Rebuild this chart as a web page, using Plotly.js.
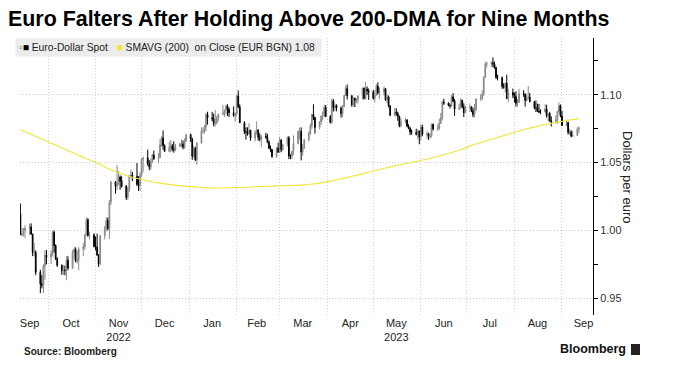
<!DOCTYPE html>
<html>
<head>
<meta charset="utf-8">
<script src="https://cdn.plot.ly/plotly-3.0.1.min.js"></script>
<style>html,body{margin:0;padding:0;background:#fff;}#chart{width:675px;height:377px;}</style>
</head>
<body>
<div id="chart"></div>
<script>
// ---- Data ----
const tradingDays = [
"2022-09-13","2022-09-14","2022-09-15","2022-09-16","2022-09-19","2022-09-20","2022-09-21","2022-09-22","2022-09-23","2022-09-26","2022-09-27","2022-09-28","2022-09-29","2022-09-30",
"2022-10-03","2022-10-04","2022-10-05","2022-10-06","2022-10-07","2022-10-10","2022-10-11","2022-10-12","2022-10-13","2022-10-14","2022-10-17","2022-10-18","2022-10-19","2022-10-20","2022-10-21","2022-10-24","2022-10-25","2022-10-26","2022-10-27","2022-10-28","2022-10-31",
"2022-11-01","2022-11-02","2022-11-03","2022-11-04","2022-11-07","2022-11-08","2022-11-09","2022-11-10","2022-11-11","2022-11-14","2022-11-15","2022-11-16","2022-11-17","2022-11-18","2022-11-21","2022-11-22","2022-11-23","2022-11-24","2022-11-25","2022-11-28","2022-11-29","2022-11-30",
"2022-12-01","2022-12-02","2022-12-05","2022-12-06","2022-12-07","2022-12-08","2022-12-09","2022-12-12","2022-12-13","2022-12-14","2022-12-15","2022-12-16","2022-12-19","2022-12-20","2022-12-21","2022-12-22","2022-12-23","2022-12-26","2022-12-27","2022-12-28","2022-12-29","2022-12-30",
"2023-01-02","2023-01-03","2023-01-04","2023-01-05","2023-01-06","2023-01-09","2023-01-10","2023-01-11","2023-01-12","2023-01-13","2023-01-16","2023-01-17","2023-01-18","2023-01-19","2023-01-20","2023-01-23","2023-01-24","2023-01-25","2023-01-26","2023-01-27","2023-01-30","2023-01-31",
"2023-02-01","2023-02-02","2023-02-03","2023-02-06","2023-02-07","2023-02-08","2023-02-09","2023-02-10","2023-02-13","2023-02-14","2023-02-15","2023-02-16","2023-02-17","2023-02-20","2023-02-21","2023-02-22","2023-02-23","2023-02-24","2023-02-27","2023-02-28",
"2023-03-01","2023-03-02","2023-03-03","2023-03-06","2023-03-07","2023-03-08","2023-03-09","2023-03-10","2023-03-13","2023-03-14","2023-03-15","2023-03-16","2023-03-17","2023-03-20","2023-03-21","2023-03-22","2023-03-23","2023-03-24","2023-03-27","2023-03-28","2023-03-29","2023-03-30","2023-03-31",
"2023-04-03","2023-04-04","2023-04-05","2023-04-06","2023-04-07","2023-04-10","2023-04-11","2023-04-12","2023-04-13","2023-04-14","2023-04-17","2023-04-18","2023-04-19","2023-04-20","2023-04-21","2023-04-24","2023-04-25","2023-04-26","2023-04-27","2023-04-28",
"2023-05-01","2023-05-02","2023-05-03","2023-05-04","2023-05-05","2023-05-08","2023-05-09","2023-05-10","2023-05-11","2023-05-12","2023-05-15","2023-05-16","2023-05-17","2023-05-18","2023-05-19","2023-05-22","2023-05-23","2023-05-24","2023-05-25","2023-05-26","2023-05-29","2023-05-30","2023-05-31",
"2023-06-01","2023-06-02","2023-06-05","2023-06-06","2023-06-07","2023-06-08","2023-06-09","2023-06-12","2023-06-13","2023-06-14","2023-06-15","2023-06-16","2023-06-19","2023-06-20","2023-06-21","2023-06-22","2023-06-23","2023-06-26","2023-06-27","2023-06-28","2023-06-29","2023-06-30",
"2023-07-03","2023-07-04","2023-07-05","2023-07-06","2023-07-07","2023-07-10","2023-07-11","2023-07-12","2023-07-13","2023-07-14","2023-07-17","2023-07-18","2023-07-19","2023-07-20","2023-07-21","2023-07-24","2023-07-25","2023-07-26","2023-07-27","2023-07-28","2023-07-31",
"2023-08-01","2023-08-02","2023-08-03","2023-08-04","2023-08-07","2023-08-08","2023-08-09","2023-08-10","2023-08-11","2023-08-14","2023-08-15","2023-08-16","2023-08-17","2023-08-18","2023-08-21","2023-08-22","2023-08-23","2023-08-24","2023-08-25","2023-08-28","2023-08-29","2023-08-30","2023-08-31",
"2023-09-01","2023-09-04","2023-09-05","2023-09-06","2023-09-07","2023-09-08","2023-09-11","2023-09-12"
];

const spotOpen = [
1.0122,0.9967,0.9977,0.9999,1.0015,1.0025,0.9971,0.9837,0.9838,0.9690,0.9606,0.9593,0.9736,0.9816,
0.9802,0.9825,0.9985,0.9887,0.9791,0.9742,0.9701,0.9707,0.9703,0.9779,0.9721,0.9838,0.9859,0.9772,0.9781,0.9862,0.9878,0.9964,1.0078,0.9962,0.9966,
0.9882,0.9876,0.9818,0.9751,0.9960,1.0018,1.0074,1.0012,1.0209,1.0356,1.0325,1.0350,1.0393,1.0364,1.0325,1.0242,1.0303,1.0396,1.0408,1.0398,1.0339,1.0330,
1.0406,1.0523,1.0535,1.0492,1.0467,1.0507,1.0555,1.0530,1.0537,1.0630,1.0681,1.0626,1.0584,1.0609,1.0622,1.0599,1.0595,1.0618,1.0636,1.0638,1.0614,1.0661,
1.0705,1.0672,1.0546,1.0606,1.0520,1.0645,1.0733,1.0735,1.0763,1.0853,1.0831,1.0822,1.0789,1.0794,1.0829,1.0856,1.0869,1.0885,1.0915,1.0893,1.0867,1.0847,
1.0863,1.0990,1.0912,1.0794,1.0727,1.0727,1.0713,1.0740,1.0679,1.0722,1.0740,1.0686,1.0672,1.0695,1.0686,1.0650,1.0606,1.0596,1.0545,1.0608,
1.0576,1.0668,1.0596,1.0633,1.0683,1.0548,1.0546,1.0582,1.0640,1.0730,1.0731,1.0577,1.0609,1.0668,1.0720,1.0771,1.0856,1.0832,1.0760,1.0800,1.0843,1.0845,1.0907,
1.0839,1.0797,1.0955,1.0905,1.0921,1.0902,1.0862,1.0911,1.0994,1.1046,1.0993,1.0927,1.0974,1.0958,1.0965,1.0990,1.1048,1.0973,1.1042,1.1027,
1.1020,1.0974,1.1000,1.1063,1.1013,1.1020,1.1044,1.0962,1.0984,1.0916,1.0850,1.0872,1.0862,1.0841,1.0770,1.0805,1.0814,1.0769,1.0752,1.0725,1.0723,1.0708,1.0733,
1.0689,1.0762,1.0708,1.0712,1.0693,1.0697,1.0782,1.0749,1.0755,1.0790,1.0830,1.0945,1.0939,1.0923,1.0918,1.0985,1.0955,1.0894,1.0906,1.0960,1.0912,1.0868,
1.0910,1.0911,1.0884,1.0854,1.0888,1.0968,1.0970,1.1008,1.1128,1.1227,1.1229,1.1237,1.1226,1.1200,1.1129,1.1126,1.1062,1.1055,1.1085,1.0972,1.1016,
1.0998,1.0986,1.0937,1.0944,1.1007,1.1006,1.0958,1.0975,1.0982,1.0950,1.0905,1.0904,1.0879,1.0872,1.0872,1.0895,1.0845,1.0862,1.0810,1.0796,1.0818,1.0878,1.0920,
1.0844,1.0773,1.0796,1.0721,1.0726,1.0695,1.0700,1.0749
];
const spotHigh = [
1.0198,1.0020,1.0017,1.0037,1.0050,1.0051,0.9976,0.9907,0.9852,0.9709,0.9669,0.9750,0.9853,0.9854,
0.9852,0.9999,0.9999,0.9896,0.9800,0.9748,0.9745,0.9740,0.9809,0.9809,0.9853,0.9876,0.9874,0.9848,0.9875,0.9905,0.9976,1.0094,1.0089,0.9989,0.9977,
0.9954,0.9976,0.9824,0.9966,1.0034,1.0096,1.0095,1.0223,1.0365,1.0364,1.0481,1.0438,1.0405,1.0399,1.0335,1.0320,1.0407,1.0448,1.0431,1.0497,1.0399,1.0429,
1.0534,1.0545,1.0595,1.0518,1.0529,1.0565,1.0588,1.0571,1.0673,1.0694,1.0737,1.0634,1.0652,1.0666,1.0638,1.0657,1.0638,1.0646,1.0670,1.0664,1.0678,1.0714,
1.0714,1.0683,1.0623,1.0616,1.0649,1.0760,1.0760,1.0776,1.0867,1.0875,1.0874,1.0861,1.0888,1.0845,1.0860,1.0927,1.0890,1.0929,1.0930,1.0907,1.0914,1.0870,
1.1003,1.1033,1.0930,1.0805,1.0760,1.0760,1.0790,1.0740,1.0738,1.0804,1.0745,1.0716,1.0705,1.0720,1.0712,1.0664,1.0625,1.0600,1.0613,1.0646,
1.0691,1.0669,1.0637,1.0694,1.0695,1.0561,1.0589,1.0700,1.0736,1.0760,1.0759,1.0637,1.0676,1.0728,1.0788,1.0857,1.0930,1.0838,1.0806,1.0845,1.0876,1.0927,1.0925,
1.0850,1.0973,1.0968,1.0935,1.0930,1.0915,1.0925,1.0997,1.1066,1.1076,1.0998,1.0980,1.0980,1.0975,1.0997,1.1052,1.1055,1.1095,1.1061,1.1046,
1.1036,1.1033,1.1079,1.1092,1.1055,1.1063,1.1050,1.1007,1.0995,1.0924,1.0903,1.0900,1.0875,1.0846,1.0829,1.0830,1.0820,1.0783,1.0764,1.0745,1.0750,1.0745,1.0737,
1.0780,1.0779,1.0731,1.0720,1.0716,1.0788,1.0787,1.0780,1.0823,1.0866,1.0957,1.0971,1.0943,1.0935,1.0999,1.1012,1.0968,1.0934,1.0976,1.0963,1.0937,1.0920,
1.0935,1.0913,1.0905,1.0933,1.0975,1.1004,1.1034,1.1137,1.1244,1.1245,1.1248,1.1276,1.1245,1.1208,1.1148,1.1135,1.1085,1.1090,1.1149,1.1043,1.1046,
1.1017,1.1027,1.0967,1.1043,1.1033,1.1010,1.1002,1.1065,1.1014,1.0952,1.0958,1.0935,1.0932,1.0893,1.0930,1.0927,1.0864,1.0874,1.0841,1.0850,1.0882,1.0945,1.0928,
1.0882,1.0810,1.0801,1.0749,1.0738,1.0734,1.0761,1.0768
];
const spotLow = [
0.9966,0.9955,0.9955,0.9945,0.9966,0.9968,0.9810,0.9807,0.9670,0.9536,0.9571,0.9536,0.9636,0.9749,
0.9751,0.9806,0.9836,0.9780,0.9730,0.9671,0.9670,0.9668,0.9632,0.9705,0.9715,0.9787,0.9764,0.9755,0.9706,0.9809,0.9855,0.9962,0.9952,0.9932,0.9873,
0.9852,0.9811,0.9730,0.9745,0.9932,0.9993,1.0000,0.9935,1.0187,1.0270,1.0295,1.0334,1.0300,1.0315,1.0223,1.0226,1.0282,1.0385,1.0362,1.0326,1.0290,1.0290,
1.0393,1.0428,1.0477,1.0443,1.0446,1.0496,1.0519,1.0495,1.0531,1.0616,1.0595,1.0578,1.0577,1.0574,1.0583,1.0573,1.0584,1.0616,1.0610,1.0597,1.0601,1.0650,
1.0652,1.0519,1.0536,1.0512,1.0483,1.0637,1.0713,1.0714,1.0731,1.0780,1.0805,1.0767,1.0766,1.0781,1.0802,1.0851,1.0835,1.0852,1.0844,1.0836,1.0837,1.0800,
1.0844,1.0903,1.0791,1.0710,1.0669,1.0698,1.0705,1.0660,1.0655,1.0705,1.0662,1.0657,1.0613,1.0675,1.0643,1.0600,1.0577,1.0535,1.0533,1.0572,
1.0576,1.0577,1.0587,1.0618,1.0525,1.0524,1.0525,1.0554,1.0634,1.0670,1.0516,1.0550,1.0598,1.0655,1.0704,1.0750,1.0813,1.0713,1.0745,1.0776,1.0809,1.0833,1.0837,
1.0788,1.0786,1.0877,1.0877,1.0878,1.0832,1.0836,1.0915,1.0991,1.0965,1.0912,1.0910,1.0910,1.0937,1.0936,1.0965,1.0965,1.0966,1.0998,1.0962,
1.0964,1.0943,1.0990,1.1003,1.0969,1.0995,1.0955,1.0940,1.0907,1.0842,1.0840,1.0844,1.0808,1.0760,1.0760,1.0790,1.0760,1.0746,1.0702,1.0705,1.0700,1.0670,1.0635,
1.0662,1.0695,1.0676,1.0667,1.0675,1.0685,1.0736,1.0733,1.0740,1.0786,1.0812,1.0925,1.0915,1.0899,1.0912,1.0946,1.0845,1.0890,1.0897,1.0900,1.0835,1.0865,
1.0872,1.0872,1.0834,1.0833,1.0880,1.0955,1.0960,1.0990,1.1125,1.1202,1.1205,1.1203,1.1192,1.1116,1.1106,1.1044,1.1045,1.1020,1.0968,1.0944,1.0975,
1.0942,1.0912,1.0912,1.0940,1.0985,1.0913,1.0951,1.0970,1.0943,1.0893,1.0873,1.0873,1.0866,1.0856,1.0870,1.0832,1.0802,1.0800,1.0766,1.0790,1.0784,1.0860,1.0835,
1.0771,1.0771,1.0706,1.0705,1.0686,1.0687,1.0706,1.0716
];
const spotClose = [
0.9967,0.9977,0.9999,1.0015,1.0025,0.9971,0.9837,0.9838,0.9690,0.9606,0.9593,0.9736,0.9816,0.9802,
0.9825,0.9985,0.9887,0.9791,0.9742,0.9701,0.9707,0.9703,0.9779,0.9721,0.9838,0.9859,0.9772,0.9781,0.9862,0.9878,0.9964,1.0078,0.9962,0.9966,0.9882,
0.9876,0.9818,0.9751,0.9960,1.0018,1.0074,1.0012,1.0209,1.0356,1.0325,1.0350,1.0393,1.0364,1.0325,1.0242,1.0303,1.0396,1.0408,1.0398,1.0339,1.0330,1.0406,
1.0523,1.0535,1.0492,1.0467,1.0507,1.0555,1.0530,1.0537,1.0630,1.0681,1.0626,1.0584,1.0609,1.0622,1.0599,1.0595,1.0618,1.0636,1.0638,1.0614,1.0661,1.0705,
1.0672,1.0546,1.0606,1.0520,1.0645,1.0733,1.0735,1.0763,1.0853,1.0831,1.0822,1.0789,1.0794,1.0829,1.0856,1.0869,1.0885,1.0915,1.0893,1.0867,1.0847,1.0863,
1.0990,1.0912,1.0794,1.0727,1.0727,1.0713,1.0740,1.0679,1.0722,1.0740,1.0686,1.0672,1.0695,1.0686,1.0650,1.0606,1.0596,1.0545,1.0608,1.0576,
1.0668,1.0596,1.0633,1.0683,1.0548,1.0546,1.0582,1.0640,1.0730,1.0731,1.0577,1.0609,1.0668,1.0720,1.0771,1.0856,1.0832,1.0760,1.0800,1.0843,1.0845,1.0907,1.0839,
1.0797,1.0955,1.0905,1.0921,1.0902,1.0862,1.0911,1.0994,1.1046,1.0993,1.0927,1.0974,1.0958,1.0965,1.0990,1.1048,1.0973,1.1042,1.1027,1.1020,
1.0974,1.1000,1.1063,1.1013,1.1020,1.1044,1.0962,1.0984,1.0916,1.0850,1.0872,1.0862,1.0841,1.0770,1.0805,1.0814,1.0769,1.0752,1.0725,1.0723,1.0708,1.0733,1.0689,
1.0762,1.0708,1.0712,1.0693,1.0697,1.0782,1.0749,1.0755,1.0790,1.0830,1.0945,1.0939,1.0923,1.0918,1.0985,1.0955,1.0894,1.0906,1.0960,1.0912,1.0868,1.0910,
1.0911,1.0884,1.0854,1.0888,1.0968,1.0970,1.1008,1.1128,1.1227,1.1229,1.1237,1.1226,1.1200,1.1129,1.1126,1.1062,1.1055,1.1085,1.0972,1.1016,1.0998,
1.0986,1.0937,1.0944,1.1007,1.1006,1.0958,1.0975,1.0982,1.0950,1.0905,1.0904,1.0879,1.0872,1.0872,1.0895,1.0845,1.0862,1.0810,1.0796,1.0818,1.0878,1.0920,1.0844,
1.0773,1.0796,1.0721,1.0726,1.0695,1.0700,1.0749,1.0751
];

const smaDates = [
"2022-09-13","2022-09-20","2022-09-27","2022-10-04","2022-10-11","2022-10-18","2022-10-25","2022-11-01","2022-11-08","2022-11-15","2022-11-22","2022-11-29",
"2022-12-06","2022-12-13","2022-12-20","2022-12-27","2023-01-03","2023-01-10","2023-01-17","2023-01-24","2023-01-31","2023-02-07","2023-02-14","2023-02-21","2023-02-28",
"2023-03-07","2023-03-14","2023-03-21","2023-03-28","2023-04-04","2023-04-11","2023-04-18","2023-04-25","2023-05-02","2023-05-09","2023-05-16","2023-05-23","2023-05-30",
"2023-06-06","2023-06-13","2023-06-20","2023-06-27","2023-07-04","2023-07-11","2023-07-18","2023-07-25","2023-08-01","2023-08-08","2023-08-15","2023-08-22","2023-08-29",
"2023-09-05","2023-09-12"
];
const smaValues = [
1.0743,1.0708,1.0673,1.0638,1.0603,1.0568,1.0534,1.0500,1.0462,1.0428,1.0400,1.0380,
1.0362,1.0348,1.0337,1.0328,1.0322,1.0315,1.0312,1.0312,1.0315,1.0318,1.0322,1.0325,1.0328,
1.0330,1.0333,1.0340,1.0350,1.0365,1.0382,1.0400,1.0420,1.0440,1.0460,1.0478,1.0495,1.0510,
1.0528,1.0548,1.0570,1.0595,1.0625,1.0650,1.0675,1.0700,1.0722,1.0745,1.0765,1.0782,1.0798,
1.0812,1.0824
];

const monthTickVals = ["2022-09-19","2022-10-16","2022-11-16","2022-12-16","2023-01-16","2023-02-14","2023-03-16","2023-04-16","2023-05-16","2023-06-16","2023-07-16","2023-08-16","2023-09-15"];
const monthTickText = ["Sep","Oct","Nov<br>2022","Dec","Jan","Feb","Mar","Apr","May<br>2023","Jun","Jul","Aug","Sep"];

const titleText = "Euro Falters After Holding Above 200-DMA for Nine Months";
const seriesNames = ["Euro-Dollar Spot", "SMAVG (200)\u00a0\u00a0on Close (EUR BGN) 1.08"];

// ---- Plot ----
const FONT = "Liberation Sans, Arial, sans-serif";
const L = 20, R = 593, T = 38, B = 315, W = 675, H = 377;
const px = x => (x - L) / (R - L);
const py = y => (B - y) / (B - T);
const GRID = "#cfcfcf";
const DOT = "1px,2px";

const traces = [
  {
    type: "candlestick",
    x: tradingDays, open: spotOpen, high: spotHigh, low: spotLow, close: spotClose,
    increasing: {line: {color: "#8a8a8a", width: 1}, fillcolor: "#8a8a8a"},
    decreasing: {line: {color: "#000000", width: 1}, fillcolor: "#000000"},
    whiskerwidth: 0,
    showlegend: false, hoverinfo: "skip"
  },
  {
    type: "scatter", mode: "lines",
    x: smaDates, y: smaValues,
    line: {color: "#f3e43a", width: 1.1, shape: "spline"},
    showlegend: false, hoverinfo: "skip"
  }
];

const layout = {
  width: W, height: H,
  margin: {l: L, r: W - R, t: T, b: H - B, pad: 0},
  paper_bgcolor: "#ffffff", plot_bgcolor: "#ffffff",
  font: {family: FONT, size: 11, color: "#222"},
  showlegend: false,
  title: {
    text: "<b>" + titleText + "</b>",
    x: 8 / W, xanchor: "left", xref: "container",
    y: 1 - 19 / H, yanchor: "middle", yref: "container",
    font: {family: FONT, size: 21.4, color: "#000"}
  },
  xaxis: {
    type: "date",
    range: ["2022-09-12 18:00", "2023-09-21 05:00"],
    rangeslider: {visible: false},
    tickmode: "array", tickvals: monthTickVals, ticktext: monthTickText,
    ticks: "", showgrid: false, showline: false, zeroline: false,
    tickfont: {family: FONT, size: 11, color: "#222"},
    minor: {tickmode: "linear", tick0: "2022-10-01", dtick: "M1", showgrid: true,
            gridcolor: GRID, griddash: DOT, gridwidth: 1, ticks: ""}
  },
  yaxis: {
    side: "right",
    range: [0.9375, 1.1419],
    tickmode: "linear", tick0: 0.95, dtick: 0.05, tickformat: ".2f",
    ticks: "outside", ticklen: 4, tickcolor: "#000", tickwidth: 1,
    showline: true, linecolor: "#000", linewidth: 1,
    showgrid: true, gridcolor: GRID, griddash: DOT, gridwidth: 1,
    zeroline: false,
    tickfont: {family: FONT, size: 11, color: "#333"},
    minor: {dtick: 0.025, ticks: "outside", ticklen: 4, tickcolor: "#000", showgrid: false}
  },
  shapes: [
    {type: "rect", xref: "paper", yref: "paper",
     x0: px(631), x1: px(640), y0: py(355), y1: py(344),
     fillcolor: "#222", line: {width: 0}}
  ],
  annotations: [
    {xref: "paper", yref: "paper", x: px(15), y: py(47), xanchor: "left", yanchor: "middle",
     showarrow: false, bgcolor: "#ececec", borderpad: 3,
     font: {family: FONT, size: 10.3, color: "#222"},
     text: '<span style="color:#888">\u25ab</span><span style="color:#000">\u25a0</span> ' + seriesNames[0] +
           '\u00a0\u00a0\u00a0<span style="color:#f3e43a">\u25a0</span> ' + seriesNames[1] + '\u00a0'},
    {xref: "paper", yref: "paper", x: px(628), y: py(177), xanchor: "center", yanchor: "middle",
     showarrow: false, textangle: 90, text: "Dollars per euro",
     font: {family: FONT, size: 13, color: "#222"}},
    {xref: "paper", yref: "paper", x: px(22), y: py(351), xanchor: "left", yanchor: "middle",
     showarrow: false, text: "<b>Source: Bloomberg</b>",
     font: {family: FONT, size: 10, color: "#222"}},
    {xref: "paper", yref: "paper", x: px(628), y: py(349), xanchor: "right", yanchor: "middle",
     showarrow: false, text: "<b>Bloomberg</b>",
     font: {family: FONT, size: 12.5, color: "#111"}}
  ]
};

Plotly.newPlot("chart", traces, layout, {staticPlot: true, displayModeBar: false});
</script>
</body>
</html>
